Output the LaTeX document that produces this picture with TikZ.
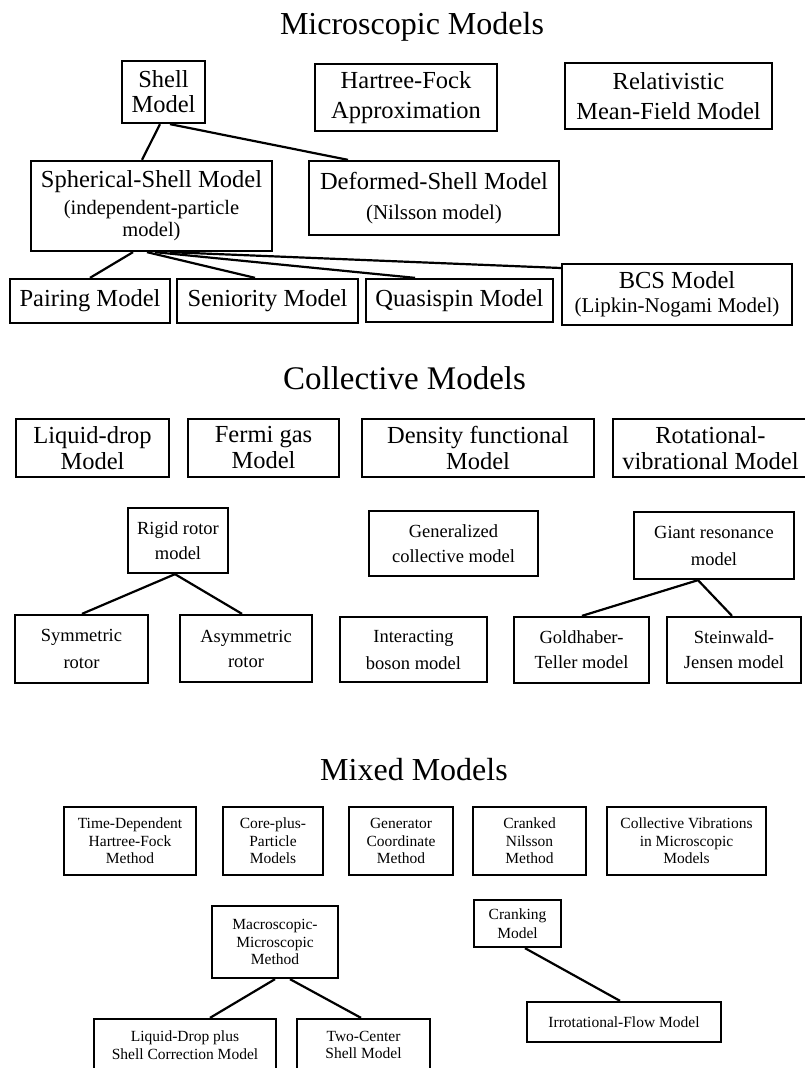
\documentclass[tikz,border=0pt]{standalone}
\usepackage{fontspec}
\setmainfont{Liberation Serif}
\begin{document}
\begin{tikzpicture}[x=1pt,y=-1pt,
  bx/.style={draw, line width=2.3pt, inner sep=0pt, align=center},
  ttl/.style={anchor=base, inner sep=0pt, font=\fontsize{32}{36}\selectfont},
  mic/.style={bx, font=\fontsize{24.5}{27}\selectfont},
  colt/.style={bx, font=\fontsize{24.5}{26}\selectfont},
  coll/.style={bx, font=\fontsize{18.5}{25}\selectfont},
  mix/.style={bx, font=\fontsize{15.5}{17.5}\selectfont},
  ln/.style={line width=2.2pt}]
\useasboundingbox (0,0) rectangle (804,1068);
\fill[white] (0,0) rectangle (804,1068);

% ---------------- Microscopic ----------------
\node[ttl] (tmic) at (412,34) {Microscopic Models};
\node[mic, minimum width=83pt, minimum height=62pt] (shell) at (163.5,92) {Shell\\[-2pt]Model};
\node[mic, minimum width=182pt, minimum height=67pt] (hf) at (406,97.5) {Hartree-Fock\\[3pt]Approximation};
\node[mic, minimum width=207pt, minimum height=66pt] (rmf) at (668.5,96) {Relativistic\\[3pt]Mean-Field Model};
\node[mic, minimum width=241pt, minimum height=90pt] (sph) at (151.5,206)
  {Spherical-Shell Model\\{\fontsize{20.5}{21}\selectfont(independent-particle}\\[-5pt]{\fontsize{20.5}{21}\selectfont model)}};
\node[mic, minimum width=250pt, minimum height=74pt] (def) at (434,198)
  {Deformed-Shell Model\\[3pt]{\fontsize{21}{21}\selectfont(Nilsson model)}};
\node[mic, minimum width=160pt, minimum height=44pt] (pair) at (90,301) {Pairing Model};
\node[mic, minimum width=181pt, minimum height=44pt] (sen) at (267.5,301) {Seniority Model};
\node[mic, minimum width=187pt, minimum height=43pt] (qs) at (459.5,300.5) {Quasispin Model};
\node[mic, minimum width=230pt, minimum height=61pt] (bcs) at (677,294.5)
  {BCS Model\\[-3pt]{\fontsize{21}{21}\selectfont(Lipkin-Nogami Model)}};

\draw[ln] ([xshift=-3.5pt]shell.south) -- ([xshift=-9.5pt]sph.north);
\draw[ln] ([xshift=6.5pt]shell.south) -- ([xshift=-86pt]def.north);
\draw[ln] ([xshift=-18.5pt]sph.south) -- (pair.north);
\draw[ln] ([xshift=-4.5pt]sph.south) -- ([xshift=-12.5pt]sen.north);
\draw[ln] ([xshift=3.5pt]sph.south) -- ([xshift=-44.5pt]qs.north);
\draw[ln] ([xshift=18.5pt]sph.south) -- ([yshift=26.5pt]bcs.west);

% ---------------- Collective ----------------
\node[ttl, font=\fontsize{33}{36}\selectfont] (tcol) at (404.5,389) {Collective Models};
\node[colt, minimum width=153pt, minimum height=58pt] (ld) at (92.5,448) {Liquid-drop\\Model};
\node[colt, minimum width=151pt, minimum height=58pt] (fg) at (263.5,448) {Fermi gas\\Model};
\node[colt, minimum width=232pt, minimum height=58pt] (df) at (478,448) {Density functional\\Model};
\node[colt, minimum width=195pt, minimum height=58pt] (rv) at (710.5,448) {Rotational-\\vibrational Model};

\node[coll, minimum width=100pt, minimum height=65pt] (rr) at (178,540.5) {Rigid rotor\\model};
\node[coll, minimum width=169pt, minimum height=65pt] (gcm2) at (453.5,543.5) {Generalized\\collective model};
\node[coll, minimum width=160pt, minimum height=67pt] (gr) at (714,545.5) {Giant resonance\\[2pt]model};
\node[coll, minimum width=133pt, minimum height=68pt] (sym) at (81.5,649) {Symmetric\\[2pt]rotor};
\node[coll, minimum width=132pt, minimum height=67pt] (asym) at (246,648.5) {Asymmetric\\rotor};
\node[coll, minimum width=147pt, minimum height=65pt] (ib) at (413.5,649.5) {Interacting\\[2pt]boson model};
\node[coll, minimum width=135pt, minimum height=66pt] (gt) at (581.5,650) {Goldhaber-\\Teller model};
\node[coll, minimum width=134pt, minimum height=66pt] (sj) at (734,650) {Steinwald-\\Jensen model};

\draw[ln] ([xshift=-3pt]rr.south) -- ([xshift=0.5pt]sym.north);
\draw[ln] ([xshift=-3pt]rr.south) -- ([xshift=-4pt]asym.north);
\draw[ln] ([xshift=-16pt]gr.south) -- ([xshift=0.5pt]gt.north);
\draw[ln] ([xshift=-16pt]gr.south) -- ([xshift=-2pt]sj.north);

% ---------------- Mixed ----------------
\node[ttl] (tmix) at (414,780) {Mixed Models};
\node[mix, minimum width=132pt, minimum height=68pt] (td) at (130,841) {Time-Dependent\\Hartree-Fock\\Method};
\node[mix, minimum width=100pt, minimum height=68pt] (cp) at (273,841) {Core-plus-\\Particle\\Models};
\node[mix, minimum width=104pt, minimum height=68pt] (gcoord) at (401,841) {Generator\\Coordinate\\Method};
\node[mix, minimum width=113pt, minimum height=68pt] (cn) at (529.5,841) {Cranked\\Nilsson\\Method};
\node[mix, minimum width=159pt, minimum height=68pt] (cv) at (686.5,841) {Collective Vibrations\\in Microscopic\\Models};

\node[mix, minimum width=126pt, minimum height=72pt] (mm) at (275,942) {Macroscopic-\\Microscopic\\Method};
\node[mix, minimum width=87pt, minimum height=47pt] (ck) at (517.5,923.5) {Cranking\\[1pt]Model};
\node[mix, minimum width=194pt, minimum height=40pt] (irr) at (624,1022) {Irrotational-Flow Model};
\node[mix, minimum width=182pt, minimum height=52pt] (ldp) at (185,1045) {Liquid-Drop plus\\Shell Correction Model};
\node[mix, minimum width=133pt, minimum height=52pt] (tc) at (363.5,1045) {Two-Center\\Shell Model};

\draw[ln] (mm.south) -- ([xshift=25pt]ldp.north);
\draw[ln] ([xshift=15pt]mm.south) -- ([xshift=-2.5pt]tc.north);
\draw[ln] ([xshift=7.5pt]ck.south) -- ([xshift=-4pt]irr.north);
\end{tikzpicture}
\end{document}
